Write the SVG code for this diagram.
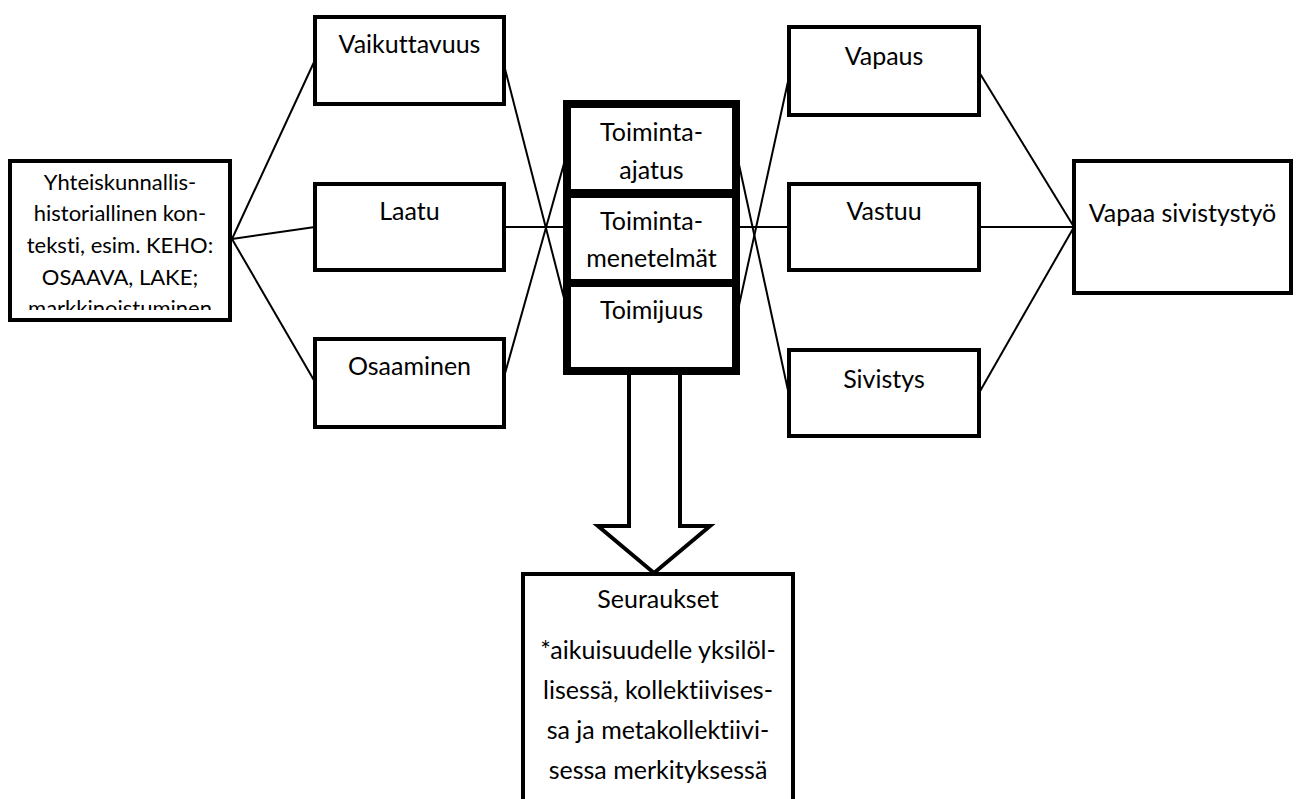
<svg xmlns="http://www.w3.org/2000/svg" width="1296" height="799" viewBox="0 0 1296 799">
  <defs>
    <style>
      .box { fill: #ffffff; stroke: #000000; stroke-width: 4; }
      .thick { fill: #ffffff; stroke: #000000; stroke-width: 8; }
      .con { fill: none; stroke: #000000; stroke-width: 2; }
      .lbl { font-family: Lato, "Liberation Sans", sans-serif; font-size: 25px; fill: #000000; text-anchor: middle; font-variant-ligatures: none; font-feature-settings: "liga" 0, "clig" 0; }
      .small { font-size: 22px; }
    </style>
    <clipPath id="clipLeft">
      <rect x="12" y="163" width="216" height="147"/>
    </clipPath>
  </defs>
  <rect x="0" y="0" width="1296" height="799" fill="#ffffff"/>

  <g id="connectors">
    <line class="con" x1="232" y1="239" x2="315" y2="60"/>
    <line class="con" x1="232" y1="239" x2="315" y2="227"/>
    <line class="con" x1="232" y1="239" x2="315" y2="382"/>
    <line class="con" x1="504" y1="65" x2="565" y2="302"/>
    <line class="con" x1="504" y1="227" x2="565" y2="227"/>
    <line class="con" x1="504" y1="377" x2="565" y2="160"/>
    <line class="con" x1="738" y1="160" x2="789" y2="395"/>
    <line class="con" x1="738" y1="227" x2="789" y2="227"/>
    <line class="con" x1="738" y1="310" x2="789" y2="77"/>
    <line class="con" x1="979" y1="72" x2="1074" y2="227"/>
    <line class="con" x1="979" y1="227" x2="1074" y2="227"/>
    <line class="con" x1="979" y1="393" x2="1074" y2="227"/>
    <polygon id="bigArrow" class="box" points="629,372 629,526 598,526 654,573 710,526 680,526 680,372"/>
  </g>

  <g id="context">
    <rect class="box" x="10" y="161" width="220" height="159"/>
    <g clip-path="url(#clipLeft)">
      <text class="lbl small" x="120" y="190">Yhteiskunnallis-</text>
      <text class="lbl small" x="120" y="221">historiallinen kon-</text>
      <text class="lbl small" x="120" y="253">teksti, esim. KEHO:</text>
      <text class="lbl small" x="120" y="285">OSAAVA, LAKE;</text>
      <text class="lbl small" x="120" y="316">markkinoistuminen</text>
    </g>
  </g>

  <g id="vaikuttavuus">
    <rect class="box" x="315" y="17" width="189" height="87"/>
    <text class="lbl" x="409.5" y="53">Vaikuttavuus</text>
  </g>
  <g id="laatu">
    <rect class="box" x="315" y="184" width="189" height="86"/>
    <text class="lbl" x="409.5" y="220">Laatu</text>
  </g>
  <g id="osaaminen">
    <rect class="box" x="315" y="339" width="189" height="88"/>
    <text class="lbl" x="409.5" y="375">Osaaminen</text>
  </g>

  <g id="toiminta-ajatus">
    <rect class="thick" x="567" y="104" width="169" height="89"/>
    <text class="lbl" x="651.5" y="141">Toiminta-</text>
    <text class="lbl" x="651.5" y="179">ajatus</text>
  </g>
  <g id="toimintamenetelmat">
    <rect class="thick" x="567" y="194" width="169" height="89"/>
    <text class="lbl" x="651.5" y="230">Toiminta-</text>
    <text class="lbl" x="651.5" y="267">menetelmät</text>
  </g>
  <g id="toimijuus">
    <rect class="thick" x="567" y="283" width="169" height="88"/>
    <text class="lbl" x="651.5" y="319">Toimijuus</text>
  </g>

  <g id="vapaus">
    <rect class="box" x="789" y="27" width="190" height="88"/>
    <text class="lbl" x="884" y="65">Vapaus</text>
  </g>
  <g id="vastuu">
    <rect class="box" x="789" y="184" width="190" height="86"/>
    <text class="lbl" x="884" y="220">Vastuu</text>
  </g>
  <g id="sivistys">
    <rect class="box" x="789" y="350" width="190" height="86"/>
    <text class="lbl" x="884" y="388">Sivistys</text>
  </g>

  <g id="vapaa-sivistystyo">
    <rect class="box" x="1074" y="161" width="217" height="132"/>
    <text class="lbl" x="1182.5" y="222">Vapaa sivistystyö</text>
  </g>

  <g id="seuraukset">
    <rect class="box" x="523" y="574" width="270" height="260"/>
    <text class="lbl" x="658" y="608">Seuraukset</text>
    <text class="lbl" x="658" y="659">*aikuisuudelle yksilöl-</text>
    <text class="lbl" x="658" y="699">lisessä, kollektiivises-</text>
    <text class="lbl" x="658" y="739">sa ja metakollektiivi-</text>
    <text class="lbl" x="658" y="779">sessa merkityksessä</text>
  </g>
</svg>
